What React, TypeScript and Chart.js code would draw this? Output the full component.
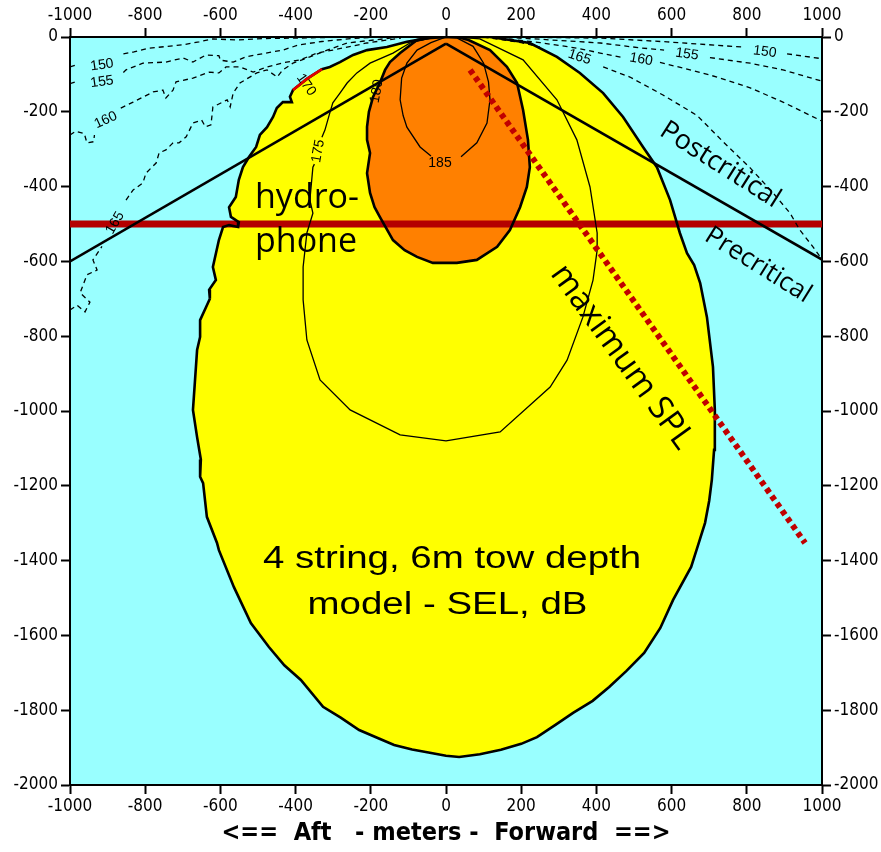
import React, { useEffect, useRef } from "react";
import { Chart, registerables } from "chart.js";

Chart.register(...registerables);

type P = [number, number];

// Axis ticks
const X_TICKS = [-1000, -800, -600, -400, -200, 0, 200, 400, 600, 800, 1000];
const Y_TICKS = [0, -200, -400, -600, -800, -1000, -1200, -1400, -1600, -1800, -2000];
const X_TITLE = "<==  Aft   - meters -  Forward  ==>";

// SEL 170 dB region (yellow)
const SEL170: P[] = [
  [0, 0], [-50, -3], [-104, -13], [-157, -27], [-210, -35], [-247, -48], [-282, -67], [-309, -80], [-330, -86],
  [-370, -112], [-407, -142], [-415, -160], [-410, -174], [-434, -174], [-450, -190], [-460, -214], [-476, -241],
  [-495, -262], [-505, -294], [-524, -321], [-540, -348], [-551, -382], [-559, -428], [-577, -455], [-572, -481],
  [-551, -495], [-553, -508], [-577, -503], [-593, -508], [-604, -543], [-620, -615], [-612, -650], [-630, -676],
  [-628, -700], [-638, -722], [-654, -757], [-654, -802], [-662, -837], [-668, -925], [-673, -997], [-662, -1070],
  [-652, -1130], [-654, -1176], [-646, -1193], [-636, -1283], [-609, -1353], [-604, -1372], [-564, -1471],
  [-519, -1567], [-471, -1631], [-430, -1680], [-386, -1719], [-327, -1791], [-280, -1820], [-231, -1853],
  [-180, -1875], [-138, -1893], [-90, -1905], [-43, -1914], [0, -1922], [35, -1925], [90, -1918], [146, -1906],
  [200, -1890], [242, -1872], [290, -1840], [338, -1807], [390, -1775], [434, -1738], [480, -1695], [527, -1647],
  [570, -1580], [604, -1505], [652, -1417], [670, -1360], [689, -1299], [700, -1240], [707, -1184], [713, -1104],
  [715, -997], [710, -882], [694, -749], [676, -658], [660, -610], [641, -578], [622, -524], [596, -436],
  [561, -348], [524, -294], [471, -214], [418, -150], [356, -96], [295, -53], [223, -16], [117, 0], [0, 0],
];
const SEL170_RED: P[] = [[-330, -86], [-370, -112], [-407, -142]];

// SEL 180 dB region (orange)
const SEL180: P[] = [
  [-30, 0], [-77, -8], [-122, -43], [-149, -67], [-162, -88], [-176, -123], [-194, -160], [-205, -200],
  [-210, -240], [-210, -275], [-202, -310], [-210, -364], [-202, -417], [-190, -455], [-176, -481], [-141, -543],
  [-110, -570], [-77, -588], [-35, -604], [29, -604], [82, -596], [136, -561], [170, -516], [197, -455],
  [215, -401], [223, -348], [218, -275], [205, -195], [189, -123], [162, -80], [117, -35], [60, -8], [30, 0], [-30, 0],
];

// SEL 175 and 185 contours
const SEL175_A: P[] = [
  [-30, 0], [-96, -16], [-141, -43], [-202, -70], [-237, -96], [-263, -123], [-282, -150], [-301, -176],
  [-309, -203], [-322, -249], [-330, -268],
];
const SEL175_B: P[] = [
  [-350, -340], [-354, -348], [-362, -436], [-354, -471], [-370, -524], [-380, -615], [-380, -703], [-370, -810],
  [-335, -917], [-255, -997], [-122, -1064], [0, -1080], [144, -1056], [277, -936], [322, -864], [364, -749],
  [391, -650], [402, -570], [402, -524], [383, -401], [348, -275], [295, -168], [205, -61], [90, -5], [30, 0],
];
const SEL185_A: P[] = [
  [0, 0], [-40, -15], [-77, -35], [-104, -70], [-118, -110], [-122, -168], [-114, -210], [-104, -241], [-69, -294], [-40, -318],
];
const SEL185_B: P[] = [
  [40, -320], [82, -283], [109, -230], [117, -168], [113, -120], [100, -70], [72, -25], [30, -3], [0, 0],
];

// Dashed SEL contours, left (aft) side
const L150_A: P[] = [[-1000, -80], [-980, -74]];
const L150_B: P[] = [
  [-858, -45], [-830, -40], [-790, -30], [-740, -25], [-700, -21], [-657, -13], [-620, -5], [-560, -8],
  [-480, -4], [-400, -3], [-300, -1], [-150, 0],
];
const L155_A: P[] = [[-1000, -125], [-980, -118]];
const L155_B: P[] = [
  [-858, -95], [-851, -88], [-806, -70], [-745, -67], [-699, -56], [-673, -67], [-638, -48], [-604, -50],
  [-600, -62], [-566, -67], [-532, -53], [-479, -43], [-434, -35], [-391, -21], [-330, -12], [-250, -4], [-170, 0],
];
const L160_A: P[] = [[-1000, -262], [-985, -252], [-962, -258], [-955, -283], [-937, -280], [-935, -262]];
const L160_B: P[] = [
  [-865, -190], [-832, -174], [-779, -147], [-753, -142], [-745, -163], [-726, -142], [-718, -120], [-673, -110],
  [-630, -94], [-604, -96], [-585, -80], [-548, -80], [-513, -94], [-476, -80], [-434, -69], [-388, -61],
  [-343, -43], [-301, -35], [-210, -16], [-120, -3],
];
const L165_A: P[] = [
  [-1000, -730], [-981, -717], [-960, -735], [-947, -709], [-973, -684], [-955, -636], [-928, -623], [-939, -596], [-915, -560],
];
const L165_B: P[] = [
  [-851, -436], [-832, -409], [-806, -390], [-798, -364], [-771, -337], [-763, -310], [-745, -302], [-726, -283],
  [-710, -283], [-691, -267], [-673, -230], [-650, -222], [-640, -240], [-625, -235], [-620, -187], [-582, -168],
  [-574, -187], [-566, -150], [-548, -123], [-503, -96], [-476, -88], [-449, -107], [-434, -88], [-407, -70],
  [-362, -53], [-316, -35], [-263, -16], [-210, -10], [-122, 0],
];

// Dashed SEL contours, right (forward) side
const R150_A: P[] = [[150, 0], [410, -3], [588, -13], [790, -27]];
const R150_B: P[] = [[907, -45], [1000, -58]];
const R155_A: P[] = [[140, 0], [250, -6], [410, -16], [516, -29], [580, -35]];
const R155_B: P[] = [[702, -55], [809, -70], [896, -88], [1000, -118]];
const R160_A: P[] = [[120, 0], [250, -15], [350, -30], [410, -43], [470, -55]];
const R160_B: P[] = [[569, -68], [630, -83], [721, -107], [809, -136], [896, -174], [1000, -225]];
const R165_A: P[] = [[100, 0], [200, -15], [250, -27]];
const R165_B: P[] = [
  [418, -80], [489, -107], [577, -155], [668, -210], [737, -280], [809, -350], [870, -417], [915, -471],
  [941, -516], [976, -561], [1000, -595],
];

// Critical-angle lines, hydrophone depth, maximum SPL track
const PRECRIT_AFT: P[] = [[0, -18], [-1000, -600]];
const PRECRIT_FWD: P[] = [[0, -18], [1000, -595]];
const HYDROPHONE: P[] = [[-1000, -500], [1000, -500]];
const MAX_SPL: P[] = [[64, -88], [955, -1353]];

type Note = { text: string; x: number; y: number; rot: number; size: number; family: string; sx?: number; align?: CanvasTextAlign; base?: CanvasTextBaseline };
const SANS = "'Open Sans', 'Noto Sans', sans-serif";
const HELV = "'Liberation Sans', Arial, sans-serif";
const NOTES: Note[] = [
  { text: "hydro-", x: -508, y: -457, rot: 0, size: 34, family: SANS, align: "left", base: "alphabetic" },
  { text: "phone", x: -508, y: -575, rot: 0, size: 34, family: SANS, align: "left", base: "alphabetic" },
  { text: "Postcritical", x: 729, y: -342, rot: 32.5, size: 27, family: SANS },
  { text: "Precritical", x: 830, y: -610, rot: 32, size: 26, family: SANS },
  { text: "maximum SPL", x: 468, y: -856, rot: 54, size: 33, family: SANS },
  { text: "4 string, 6m tow depth", x: 16, y: -1420, rot: 0, size: 31, family: HELV, sx: 1.24, base: "alphabetic" },
  { text: "model - SEL, dB", x: 4, y: -1543, rot: 0, size: 31, family: HELV, sx: 1.24, base: "alphabetic" },
  { text: "150", x: 848, y: -40, rot: 7, size: 14, family: HELV },
  { text: "155", x: 641, y: -46, rot: 8, size: 14, family: HELV },
  { text: "160", x: 519, y: -60, rot: 10, size: 14, family: HELV },
  { text: "165", x: 355, y: -54, rot: 18, size: 14, family: HELV },
  { text: "150", x: -915, y: -75, rot: -8, size: 14, family: HELV },
  { text: "155", x: -915, y: -120, rot: -8, size: 14, family: HELV },
  { text: "160", x: -905, y: -222, rot: -25, size: 14, family: HELV },
  { text: "165", x: -880, y: -497, rot: -60, size: 14, family: HELV },
  { text: "170", x: -372, y: -128, rot: 55, size: 14, family: HELV },
  { text: "175", x: -340, y: -305, rot: -80, size: 14, family: HELV },
  { text: "180", x: -184, y: -145, rot: -80, size: 14, family: HELV },
  { text: "185", x: -16, y: -337, rot: 0, size: 14, family: HELV },
];

const TICK_FONT = "'Liberation Sans Narrow', 'DejaVu Sans Condensed', 'Liberation Sans', sans-serif";

const pts = (a: P[]) => a.map(([x, y]) => ({ x, y }));

export default function App() {
  const ref = useRef<HTMLCanvasElement | null>(null);
  useEffect(() => {
    if (!ref.current) return;
    const line = (data: P[], color: string, width: number, order: number, extra: any = {}) => ({
      data: pts(data), showLine: true, borderColor: color, borderWidth: width, pointRadius: 0,
      fill: false, order, clip: 0, ...extra,
    });
    const dashed = (d: P[]) => line(d, "#000", 1.3, 80, { borderDash: [5, 4] });
    const datasets: any[] = [
      line(SEL170, "rgba(0,0,0,0)", 0, 100, { fill: "shape", backgroundColor: "#FFFF00" }),
      line(SEL180, "rgba(0,0,0,0)", 0, 99, { fill: "shape", backgroundColor: "#FF8000" }),
      line(HYDROPHONE, "#B40000", 7, 95),
      line(SEL170, "#000", 2.6, 85),
      line(SEL180, "#000", 2.6, 85),
      line(SEL170_RED, "#E00000", 2.6, 84),
      line(SEL175_A, "#000", 1.3, 80), line(SEL175_B, "#000", 1.3, 80),
      line(SEL185_A, "#000", 1.3, 80), line(SEL185_B, "#000", 1.3, 80),
      ...[L150_A, L150_B, L155_A, L155_B, L160_A, L160_B, L165_A, L165_B,
        R150_A, R150_B, R155_A, R155_B, R160_A, R160_B, R165_A, R165_B].map(dashed),
      line(PRECRIT_AFT, "#000", 2.6, 60), line(PRECRIT_FWD, "#000", 2.6, 60),
      line(MAX_SPL, "#C00000", 6, 50, { borderDash: [5, 4], borderCapStyle: "butt" }),
    ];
    const tickFont = { family: TICK_FONT, size: 17 };
    const grid = { drawOnChartArea: false, drawTicks: true, tickLength: 9, tickColor: "#000", tickWidth: 2 };
    const border = { display: true, color: "#000", width: 2 };
    const xAxis = (position: string, h: number, title?: any) => ({
      type: "linear", position, min: -1000, max: 1000, z: 1,
      afterBuildTicks: (s: any) => { s.ticks = X_TICKS.map((v) => ({ value: v })); },
      ticks: { font: tickFont, color: "#000", padding: 2, maxRotation: 0, autoSkip: false, callback: (v: any) => String(v) },
      grid, border, title,
      afterFit: (s: any) => { s.height = h; },
    });
    const yAxis = (position: string, w: number) => ({
      type: "linear", position, min: -2000, max: 0, z: 1,
      afterBuildTicks: (s: any) => { s.ticks = Y_TICKS.map((v) => ({ value: v })); },
      ticks: { font: tickFont, color: "#000", padding: 3, autoSkip: false, callback: (v: any) => String(v) },
      grid, border,
      afterFit: (s: any) => { s.width = w; },
    });
    const bg = {
      id: "bg",
      beforeDraw(c: any) {
        const { ctx, chartArea: a } = c;
        ctx.save();
        ctx.fillStyle = "#fff";
        ctx.fillRect(0, 0, c.width, c.height);
        ctx.fillStyle = "#99FFFF";
        ctx.fillRect(a.left, a.top, a.right - a.left, a.bottom - a.top);
        ctx.restore();
      },
    };
    const notes = {
      id: "notes",
      afterDatasetsDraw(c: any) {
        const { ctx } = c;
        const xs = c.scales.x, ys = c.scales.y;
        NOTES.forEach((n) => {
          ctx.save();
          ctx.translate(xs.getPixelForValue(n.x), ys.getPixelForValue(n.y));
          ctx.rotate((n.rot * Math.PI) / 180);
          ctx.scale(n.sx ?? 1, 1);
          ctx.font = `${n.size}px ${n.family}`;
          ctx.fillStyle = "#000";
          ctx.textAlign = n.align ?? "center";
          ctx.textBaseline = n.base ?? "middle";
          ctx.fillText(n.text, 0, 0);
          ctx.restore();
        });
      },
    };
    const chart = new Chart(ref.current, {
      type: "scatter",
      data: { datasets },
      options: {
        responsive: false,
        animation: false,
        layout: { padding: 0 },
        elements: { point: { radius: 0 }, line: { tension: 0 } },
        plugins: { legend: { display: false }, tooltip: { enabled: false } },
        scales: {
          x: xAxis("bottom", 67, {
            display: true, text: X_TITLE, color: "#000",
            font: { family: TICK_FONT, size: 25, weight: "bold" }, padding: { top: 0, bottom: 4 },
          }),
          x2: xAxis("top", 37),
          y: yAxis("left", 70),
          y2: yAxis("right", 59),
        } as any,
      },
      plugins: [bg, notes],
    } as any);
    return () => chart.destroy();
  }, []);
  return (
    <div style={{ position: "absolute", left: 0, top: 0, width: 881, height: 852, background: "#fff" }}>
      <canvas ref={ref} width={881} height={852} style={{ display: "block" }} />
    </div>
  );
}
